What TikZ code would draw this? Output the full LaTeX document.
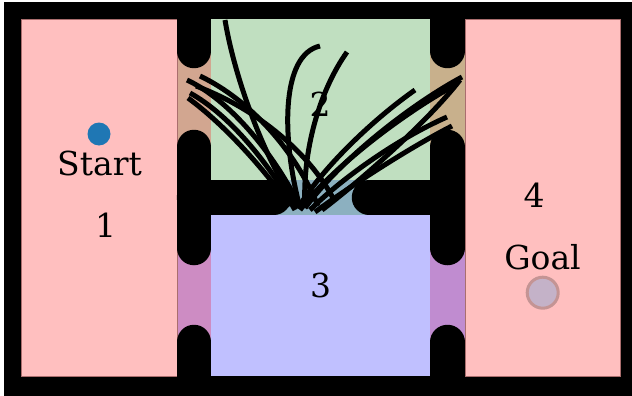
\documentclass[tikz,border=0pt]{standalone}
\usepackage{fontspec}
\setmainfont{DejaVu Serif}
\definecolor{roompink}{RGB}{255,191,191}
\definecolor{roomgreen}{RGB}{192,223,192}
\definecolor{roomblue}{RGB}{192,192,255}
\definecolor{doortanL}{RGB}{210,166,144}
\definecolor{doortanR}{RGB}{200,176,140}
\definecolor{doorpurL}{RGB}{205,140,195}
\definecolor{doorpurR}{RGB}{192,140,208}
\definecolor{doormid}{RGB}{140,176,192}
\definecolor{edgepink}{RGB}{170,110,110}
\definecolor{startblue}{RGB}{31,119,180}
\definecolor{goalfill}{RGB}{196,178,200}
\definecolor{goaledge}{RGB}{196,148,148}
\tikzset{
  wall/.style={line width=34.5pt, line cap=round, black},
  traj/.style={line width=5pt, black},
  lbl/.style={inner sep=0pt, font=\fontsize{33}{40}\selectfont},
  room/.style={draw=edgepink, line width=0.6pt}
}
\begin{document}
\begin{tikzpicture}[x=1pt,y=-1pt]
\useasboundingbox (0,0) rectangle (632,396);
% frame
\fill[black] (4,2) rectangle (632,396);
% wall columns (door colours)
\fill[doortanL] (177,19) rectangle (211,197);
\fill[doorpurL] (177,197) rectangle (211,376);
\fill[doortanR] (430,19) rectangle (465,197);
\fill[doorpurR] (430,197) rectangle (465,376);
\fill[doormid] (211,180) rectangle (430,215);
% rooms
\fill[roompink,room] (21,19) rectangle (177,376);
\fill[roompink,room] (465,19) rectangle (620,376);
\fill[roomgreen] (211,19) rectangle (430,180);
\fill[roomblue] (211,215) rectangle (430,376);
% walls
\draw[wall] (194,20) -- (194,51);
\draw[wall] (194,147) -- (194,248);
\draw[wall] (194,197.5) -- (274,197.5);
\draw[wall] (194,342) -- (194,376);
\draw[wall] (447.5,20) -- (447.5,51);
\draw[wall] (447.5,147) -- (447.5,248);
\draw[wall] (369,197.5) -- (447.5,197.5);
\draw[wall] (447.5,342) -- (447.5,376);
% labels
\node[lbl] (n1) at (105.5,225.5) {1};
\node[lbl] (n2) at (320,104) {2};
\node[lbl] (n3) at (320.5,285) {3};
\node[lbl] (n4) at (534,195.5) {4};
% trajectories
\draw[traj] (187,80) .. controls (230,100) and (275,155) .. (300,207);
\draw[traj] (200,76) .. controls (250,100) and (295,150) .. (318,206);
\draw[traj] (190,93) .. controls (230,115) and (270,165) .. (295,210);
\draw[traj] (196,86) .. controls (260,110) and (310,155) .. (333,198);
\draw[traj] (188,98) .. controls (225,125) and (265,170) .. (290,206);
\draw[traj] (225,20) .. controls (235,80) and (265,160) .. (298,208);
\draw[traj] (320,46) .. controls (280,55) and (282,140) .. (300,208);
\draw[traj] (347,52) .. controls (320,90) and (302,150) .. (305,208);
\draw[traj] (462,77) .. controls (410,105) and (340,160) .. (305,208);
\draw[traj] (457,84) .. controls (400,115) and (330,170) .. (300,210);
\draw[traj] (415,90) .. controls (375,118) and (325,165) .. (300,205);
\draw[traj] (447,117) .. controls (395,140) and (340,180) .. (310,210);
\draw[traj] (452,126) .. controls (405,150) and (345,190) .. (315,212);
\draw[traj] (460,80) .. controls (425,125) and (355,185) .. (322,210);
% start and goal
\node[circle, fill=startblue, minimum size=23pt, inner sep=0pt] (startdot) at (99,134) {};
\node[lbl] (start) at (99.5,163) {Start};
\node[lbl] (goal) at (542.5,257.5) {Goal};
\node[circle, fill=goalfill, draw=goaledge, line width=3pt, minimum size=31pt, inner sep=0pt] (goaldot) at (542.7,292.7) {};
\end{tikzpicture}
\end{document}
